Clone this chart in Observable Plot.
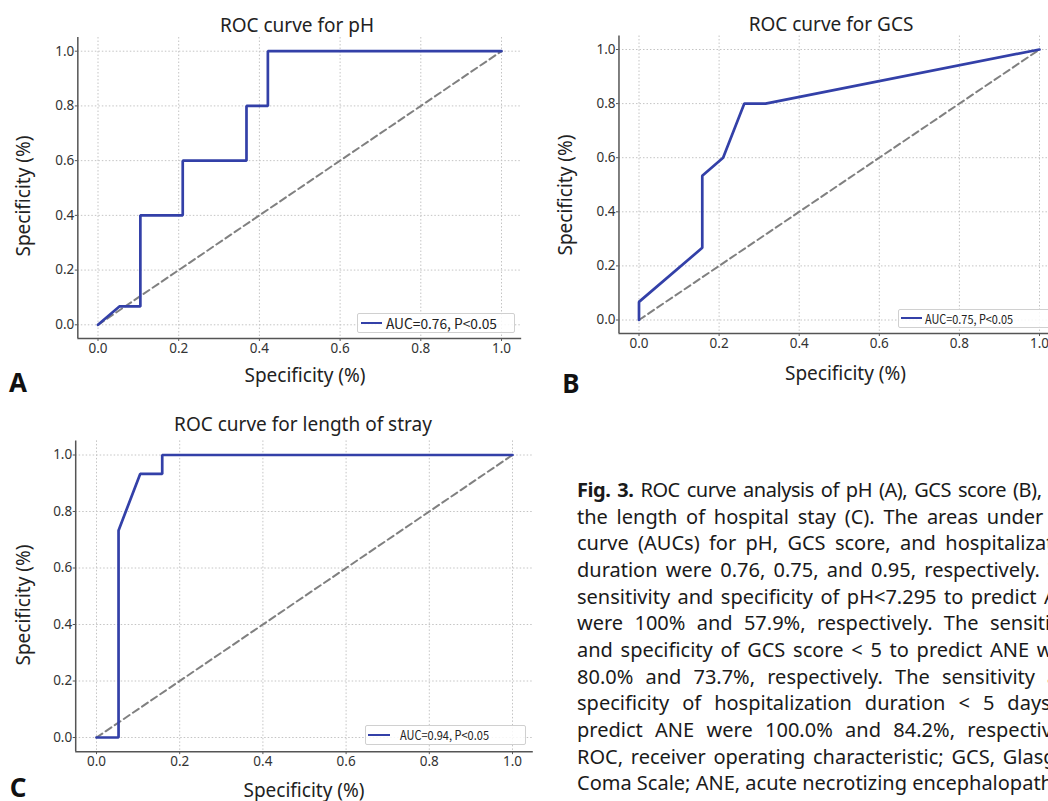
<!DOCTYPE html>
<html><head><meta charset="utf-8">
<script src="https://cdn.jsdelivr.net/npm/d3@7"></script>
<script src="https://cdn.jsdelivr.net/npm/@observablehq/plot@0.6"></script>
<style>
html,body{margin:0;padding:0;width:1048px;height:801px;overflow:hidden;background:#fff;font-family:"Noto Sans",sans-serif;}
#root{position:relative;width:1048px;height:801px;overflow:hidden;}
.abs{position:absolute;white-space:nowrap;}
.ctr{transform:translate(-50%,-50%);}
.title{font-size:19px;color:#222;line-height:1.1;}
.xlab{font-size:19px;color:#222;line-height:1;}
.ylab{font-size:19px;color:#222;line-height:1;transform:translate(-50%,-50%) rotate(-90deg);}
.letter{font-size:26px;font-weight:700;color:#111;line-height:0.8;}
.legend{border:1px solid #d0d0d0;background:rgba(255,255,255,0.85);border-radius:2px;box-sizing:border-box;}
.legline{height:0;border-top:2.5px solid #3340a8;}
.legtext{font-family:"Noto Sans CJK KR","Noto Sans",sans-serif;color:#222;transform-origin:0 50%;line-height:1;}
#caption{position:absolute;left:577px;top:477px;font-size:20px;line-height:26.67px;color:#1a1a1a;}
#caption div{white-space:nowrap;width:506px;text-align:justify;text-align-last:justify;}
#caption div.last{text-align-last:left;}
svg{position:absolute;overflow:visible;}
</style></head><body>
<div id="root"></div>
<script>
// ---------- data ----------
const tickValues = [0, 0.2, 0.4, 0.6, 0.8, 1.0];
const chanceFPR = [0, 1];
const chanceTPR = [0, 1];

const phFPR  = [0, 0.053, 0.105, 0.105, 0.21, 0.21, 0.368, 0.368, 0.421, 0.421, 1.0];
const phTPR  = [0, 0.067, 0.067, 0.4,   0.4,  0.6,  0.6,   0.8,   0.8,   1.0,   1.0];

const gcsFPR = [0, 0,     0.158, 0.158, 0.21, 0.263, 0.316, 1.0];
const gcsTPR = [0, 0.067, 0.267, 0.533, 0.6,  0.8,   0.8,   1.0];

const stayFPR = [0, 0.053, 0.053, 0.105, 0.158, 0.158, 1.0];
const stayTPR = [0, 0,     0.733, 0.933, 0.933, 1.0,   1.0];

const panelTitles = ["ROC curve for pH", "ROC curve for GCS", "ROC curve for length of stray"];
const legendLabels = ["AUC=0.76, P<0.05", "AUC=0.75, P<0.05", "AUC=0.94, P<0.05"];
const panelLetters = ["A", "B", "C"];
const axisLabel = "Specificity (%)";

const captionLines = [
  ["Fig. 3.", " ROC curve analysis of pH (A), GCS score (B), and"],
  ["", "the length of hospital stay (C). The areas under the"],
  ["", "curve (AUCs) for pH, GCS score, and hospitalization"],
  ["", "duration were 0.76, 0.75, and 0.95, respectively. The"],
  ["", "sensitivity and specificity of pH<7.295 to predict ANE"],
  ["", "were 100% and 57.9%, respectively. The sensitivity"],
  ["", "and specificity of GCS score < 5 to predict ANE were"],
  ["", "80.0% and 73.7%, respectively. The sensitivity and"],
  ["", "specificity of hospitalization duration < 5 days to"],
  ["", "predict ANE were 100.0% and 84.2%, respectively."],
  ["", "ROC, receiver operating characteristic; GCS, Glasgow"],
  ["", "Coma Scale; ANE, acute necrotizing encephalopathy."]
];

// ---------- layout ----------
const BLUE = "#3340a8";
const panels = [
  {fpr: phFPR, tpr: phTPR, left: 0, top: 0, width: 530, height: 400,
   x0: 97.5, x1: 501, y0: 324.3, y1: 50.7,
   title: [297, 24.7], xlab: [305, 375], ylab: [22.5, 196], letter: [18, 382],
   legend: {l: 357, t: 313, w: 158, h: 20, lineL: 361, lineR: 382, textL: 386, textW: 111, fs: 14}},
  {fpr: gcsFPR, tpr: gcsTPR, left: 540, top: 0, width: 520, height: 400,
   x0: 638.5, x1: 1039, y0: 319.5, y1: 49,
   title: [831, 24], xlab: [845.5, 372.5], ylab: [565, 195], letter: [571, 382.5],
   legend: {l: 898, t: 309, w: 170, h: 19, lineL: 901, lineR: 922, textL: 925, textW: 88, fs: 12.5}},
  {fpr: stayFPR, tpr: stayTPR, left: 0, top: 400, width: 545, height: 401,
   x0: 96, x1: 512, y0: 737, y1: 454.5,
   title: [303, 424], xlab: [304, 789.5], ylab: [23, 604.5], letter: [18, 787],
   legend: {l: 365, t: 725, w: 161, h: 20, lineL: 368, lineR: 390, textL: 400, textW: 89, fs: 12.5}}
];

const root = document.getElementById("root");
function addDiv(cls, text, x, y, extraStyle) {
  const d = document.createElement("div");
  d.className = "abs " + cls;
  d.textContent = text;
  d.style.left = x + "px";
  d.style.top = y + "px";
  if (extraStyle) Object.assign(d.style, extraStyle);
  root.appendChild(d);
  return d;
}

panels.forEach((p, i) => {
  const pxX = p.x1 - p.x0, pxY = p.y0 - p.y1;
  const xmin = p.x0 - 0.05 * pxX, xmax = p.x0 + 1.05 * pxX;
  const ybot = p.y0 + 0.05 * pxY, ytop = p.y0 - 1.05 * pxY;
  const curve = p.fpr.map((f, k) => ({fpr: f, tpr: p.tpr[k]}));
  const chance = chanceFPR.map((f, k) => ({fpr: f, tpr: chanceTPR[k]}));
  const chart = Plot.plot({
    width: p.width, height: p.height,
    marginLeft: xmin - p.left, marginRight: p.left + p.width - xmax,
    marginTop: ytop - p.top, marginBottom: p.top + p.height - ybot,
    x: {domain: [-0.05, 1.05]},
    y: {domain: [-0.05, 1.05]},
    style: {fontFamily: '"Noto Sans", sans-serif', fontSize: "13.5px", color: "#333", background: "transparent", overflow: "visible"},
    marks: [
      Plot.gridX(tickValues, {stroke: "#c4c4c4", strokeOpacity: 1, strokeWidth: 1, strokeDasharray: "1.5,2"}),
      Plot.gridY(tickValues, {stroke: "#c4c4c4", strokeOpacity: 1, strokeWidth: 1, strokeDasharray: "1.5,2"}),
      Plot.axisX(tickValues, {tickFormat: d3.format(".1f"), tickSize: 3, tickPadding: 2, label: null, stroke: "#555", fill: "#333", fontSize: 13.5}),
      Plot.axisY(tickValues, {tickFormat: d3.format(".1f"), tickSize: 2.5, tickPadding: 1, label: null, stroke: "#555", fill: "#333", fontSize: 13.5}),
      Plot.ruleX([-0.05], {stroke: "#555", strokeWidth: 1.5}),
      Plot.ruleY([-0.05], {stroke: "#555", strokeWidth: 1.5}),
      Plot.line(chance, {x: "fpr", y: "tpr", stroke: "#808080", strokeWidth: 2, strokeDasharray: "7,4"}),
      Plot.line(curve, {x: "fpr", y: "tpr", stroke: BLUE, strokeWidth: 2.7, strokeLinejoin: "miter"})
    ]
  });
  chart.style.left = p.left + "px";
  chart.style.top = p.top + "px";
  root.appendChild(chart);

  addDiv("ctr title", panelTitles[i], p.title[0], p.title[1]);
  addDiv("ctr xlab", axisLabel, p.xlab[0], p.xlab[1]);
  addDiv("ylab", axisLabel, p.ylab[0], p.ylab[1]);
  addDiv("ctr letter", panelLetters[i], p.letter[0], p.letter[1]);

  const L = p.legend;
  addDiv("legend", "", L.l, L.t, {width: L.w + "px", height: L.h + "px"});
  addDiv("legline", "", L.lineL, L.t + L.h / 2 - 1.25, {width: (L.lineR - L.lineL) + "px"});
  const t = addDiv("legtext", legendLabels[i], L.textL, L.t + L.h / 2, {fontSize: L.fs + "px"});
  const w = t.getBoundingClientRect().width;
  t.style.transform = `translateY(-50%) scaleX(${L.textW / w})`;
});

const cap = document.createElement("div");
cap.id = "caption";
captionLines.forEach(([b, rest], k) => {
  const line = document.createElement("div");
  if (k === captionLines.length - 1) line.className = "last";
  if (k === 0) line.style.letterSpacing = "-0.45px";
  if (b) { const s = document.createElement("b"); s.textContent = b; line.appendChild(s); }
  line.appendChild(document.createTextNode(rest));
  cap.appendChild(line);
});
root.appendChild(cap);
</script>
</body></html>
